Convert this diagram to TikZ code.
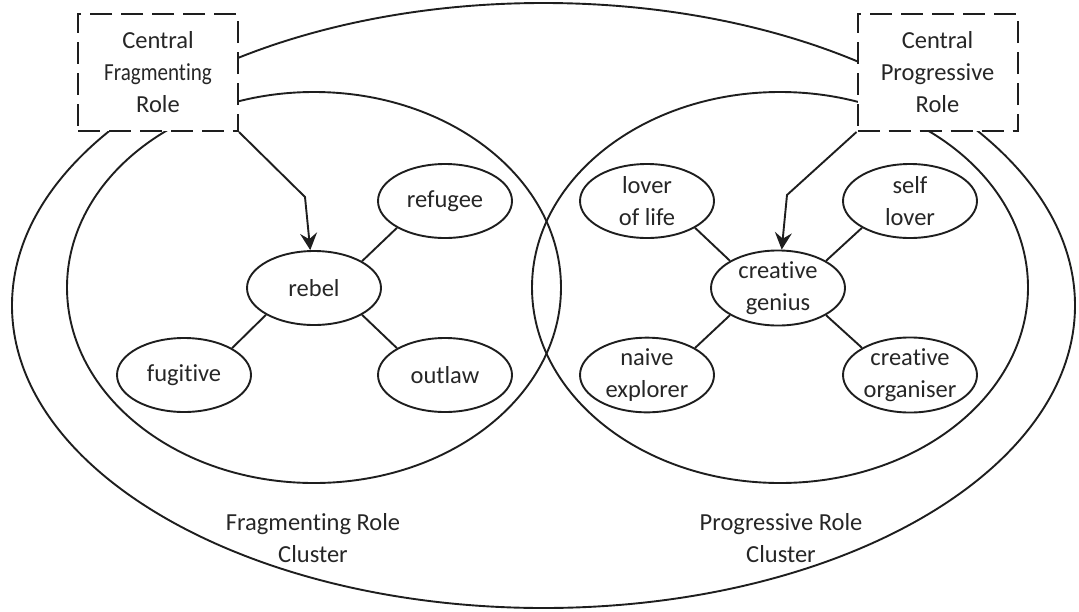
\documentclass[tikz,border=0pt]{standalone}
\usepackage{fontspec}
\setmainfont{Carlito}[Ligatures=NoCommon]
\usetikzlibrary{arrows.meta,shapes.geometric}
\definecolor{ink}{HTML}{1E1E1E}
\definecolor{txt}{HTML}{262626}
\begin{document}
\begin{tikzpicture}[x=1pt,y=-1pt,
  every node/.style={font=\fontsize{24.5}{32}\selectfont, text=txt},
  line/.style={draw=ink, line width=1.9pt},
  role/.style={ellipse, line, fill=white, minimum width=134pt, minimum height=74pt,
    inner sep=0pt, align=center},
  centralbox/.style={rectangle, draw=ink, line width=2pt, dash pattern=on 22pt off 9pt,
    fill=white, minimum width=160pt, minimum height=117pt, inner sep=0pt, align=center},
  link/.style={line},
  pointer/.style={line, -{Stealth[length=17pt,width=17pt,inset=6pt]}},
  caption/.style={align=center}
]
\useasboundingbox (0,0) rectangle (1079,611);

% outer envelope and the two cluster outlines
\draw[line] (543.5,305.5) ellipse [x radius=531.5pt, y radius=302.5pt];
\draw[line] (314,287.5) ellipse [x radius=247pt, y radius=195.5pt];
\draw[line] (780,287.5) ellipse [x radius=248pt, y radius=195.5pt];

% central roles
\node[centralbox] (lbox) at (158,72.5) {Central\\\scalebox{0.86}[1]{Fragmenting}\\Role};
\node[centralbox] (rbox) at (937.5,72.5) {Central\\Progressive\\Role};

% fragmenting cluster
\node[role] (rebel)    at (314,288) {rebel};
\node[role] (refugee)  at (445,201) {refugee};
\node[role] (fugitive) at (184,375) {fugitive};
\node[role] (outlaw)   at (445,375) {outlaw};

% progressive cluster
\node[role] (genius)    at (778,288) {creative\\genius};
\node[role] (loverlife) at (647,201) {lover\\of life};
\node[role] (selflover) at (910,201) {self\\lover};
\node[role] (naive)     at (647,375) {naive\\explorer};
\node[role] (organiser) at (910,375) {creative\\organiser};

% links inside the clusters
\draw[link] (rebel.north east) -- (refugee.south west);
\draw[link] (rebel.south west) -- (fugitive.north east);
\draw[link] (rebel.south east) -- (outlaw.north west);
\draw[link] (genius.north west) -- (loverlife.south east);
\draw[link] (genius.north east) -- (selflover.south west);
\draw[link] (genius.south west) -- (naive.north east);
\draw[link] (genius.south east) -- (organiser.north west);

% pointers from the central roles
\coordinate (lbend) at (305,197);
\coordinate (rbend) at (787,195);
\draw[pointer] (lbox.south east) -- (lbend) -- (rebel);
\draw[pointer] (rbox.south west) -- (rbend) -- (genius);

% cluster captions
\node[caption] (lcap) at (313,538) {Fragmenting Role\\Cluster};
\node[caption] (rcap) at (781,538) {Progressive Role\\Cluster};
\end{tikzpicture}
\end{document}
